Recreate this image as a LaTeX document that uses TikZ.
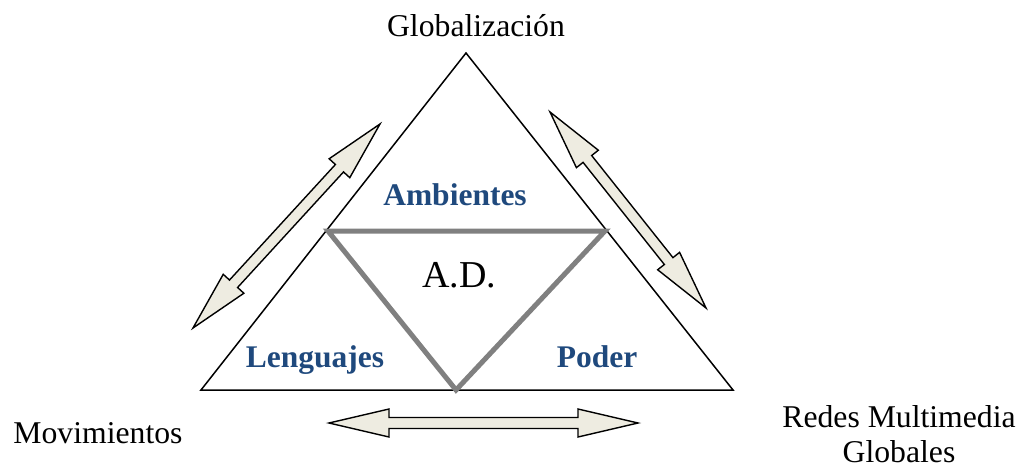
\documentclass[tikz,border=0pt]{standalone}
\usepackage{fontspec}
\setmainfont{Liberation Serif}
\usetikzlibrary{calc}
\definecolor{arrowfill}{HTML}{EEECE1}
\definecolor{labelblue}{HTML}{1F497D}
\definecolor{innergrey}{HTML}{808080}
\newcommand\dblarrow[2]{%
  \draw[dblarr] (#1)
    -- ($(#1)!60pt!(#2)!14pt!90:(#2)$)
    -- ($(#1)!60pt!(#2)!5.5pt!90:(#2)$)
    -- ($(#2)!60pt!(#1)!5.5pt!-90:(#1)$)
    -- ($(#2)!60pt!(#1)!14pt!-90:(#1)$)
    -- (#2)
    -- ($(#2)!60pt!(#1)!14pt!90:(#1)$)
    -- ($(#2)!60pt!(#1)!5.5pt!90:(#1)$)
    -- ($(#1)!60pt!(#2)!5.5pt!-90:(#2)$)
    -- ($(#1)!60pt!(#2)!14pt!-90:(#2)$)
    -- cycle;}
\tikzset{
  dblarr/.style={draw=black, fill=arrowfill, line width=1.4pt, line join=miter},
  outer/.style={draw=black, line width=1.5pt, line join=miter},
  inner/.style={draw=innergrey, line width=5pt, line join=miter},
  plain/.style={inner sep=0pt, anchor=base, font=\fontsize{31.7}{35}\selectfont},
  bluelabel/.style={inner sep=0pt, anchor=base, text=labelblue, font=\fontsize{31.5}{35}\selectfont\bfseries},
}
\begin{document}
\begin{tikzpicture}[x=1pt,y=-1pt]
\useasboundingbox (0,0) rectangle (1019,468);
% outer triangle
\coordinate (top) at (466,53);
\coordinate (bl) at (201,390);
\coordinate (br) at (733,390);
\draw[outer] (top) -- (bl) -- (br) -- cycle;
% inner triangle
\coordinate (il) at (328,231);
\coordinate (ir) at (605,231);
\coordinate (ib) at (456,390);
\draw[inner] (il) -- (ir) -- (ib) -- cycle;
% arrows
\coordinate (la1) at (193,328);
\coordinate (la2) at (380,124);
\coordinate (ra1) at (550,112);
\coordinate (ra2) at (706,308);
\coordinate (ba1) at (329,423);
\coordinate (ba2) at (638,423);
\dblarrow{la1}{la2}
\dblarrow{ra1}{ra2}
\dblarrow{ba1}{ba2}
% labels
\node[plain] (glob) at (476,37) {Globalización};
\node[plain] (mov) at (98,443) {Movimientos};
\node[plain, align=center] (redes) at (899,462) {Redes Multimedia\\[0pt]Globales};
\node[plain, font=\fontsize{38}{42}\selectfont] (ad) at (459,287) {A.D.};
\node[bluelabel] (amb) at (455,205) {Ambientes};
\node[bluelabel] (len) at (315,367) {Lenguajes};
\node[bluelabel] (pod) at (597,367) {Poder};
\end{tikzpicture}
\end{document}
